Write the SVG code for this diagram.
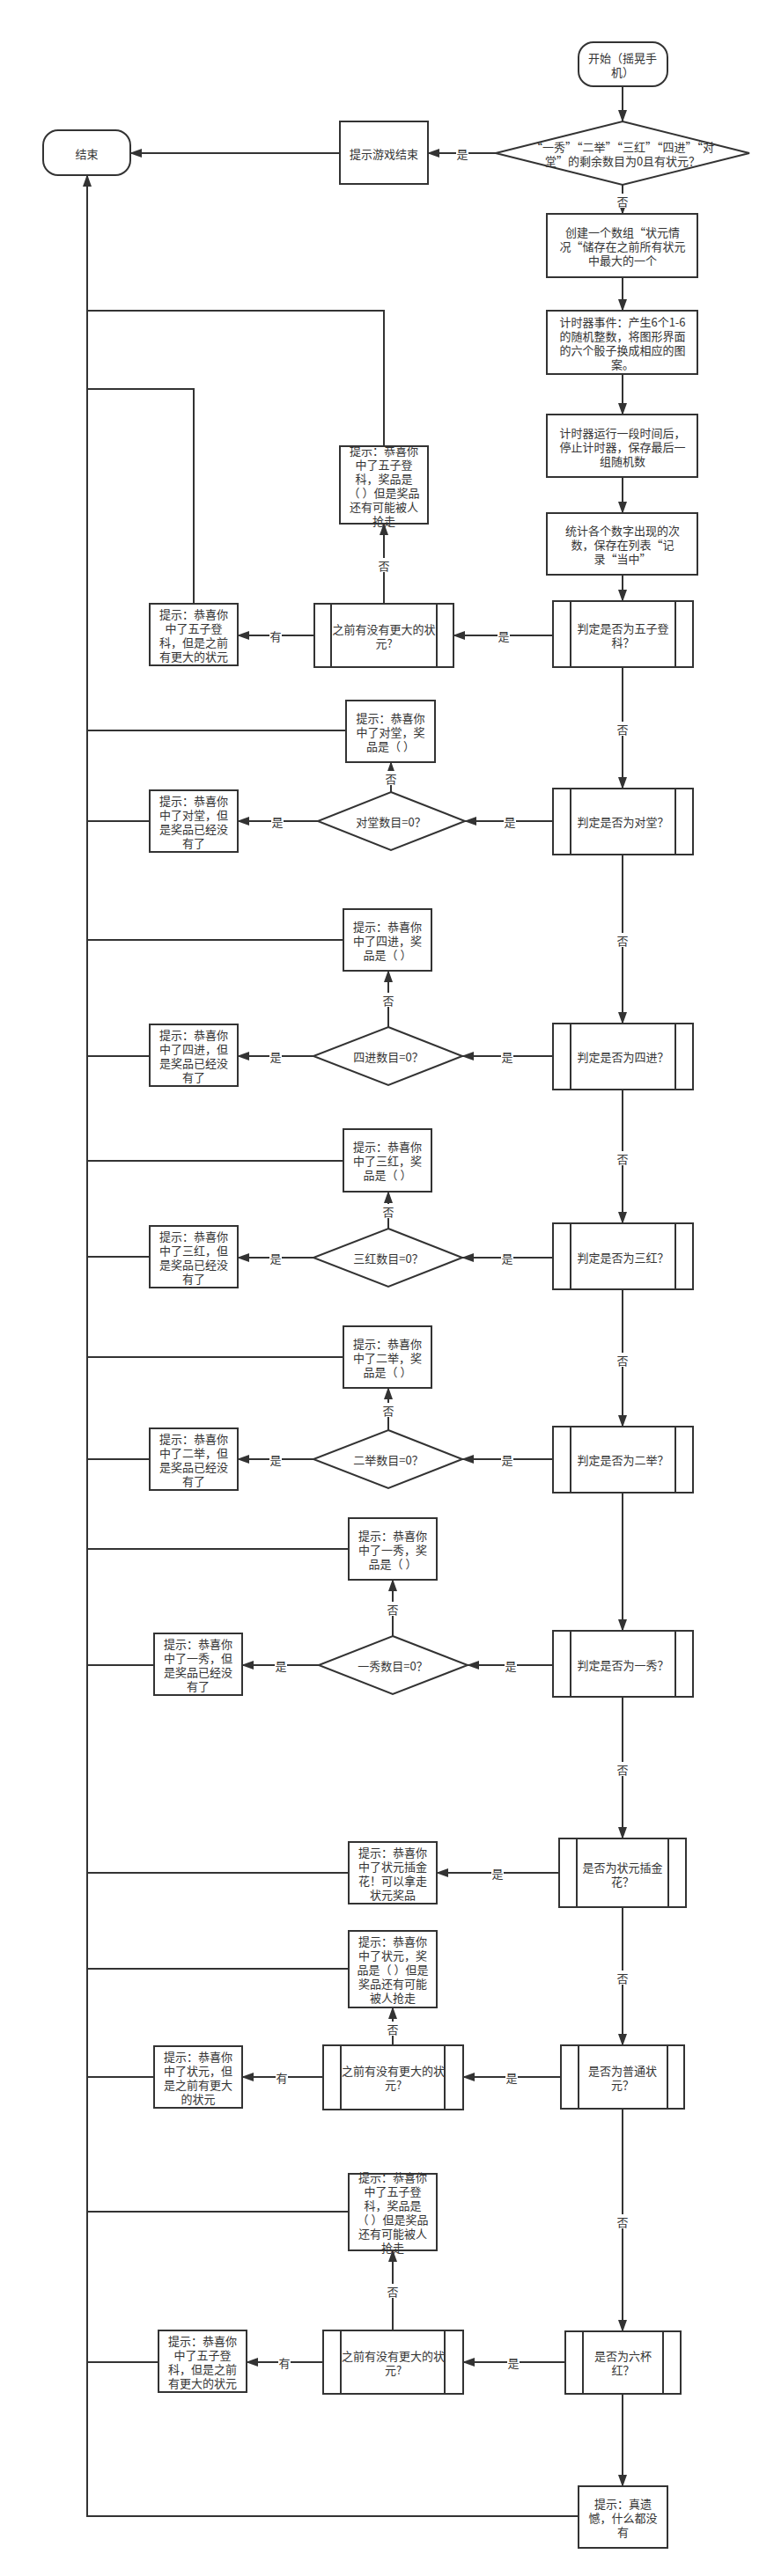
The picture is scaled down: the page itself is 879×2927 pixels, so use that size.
<svg xmlns="http://www.w3.org/2000/svg" width="879" height="2927" viewBox="0 0 879 2927">
<style>
.n{fill:#fff;stroke:#333;stroke-width:2}
.il{stroke:#333;stroke-width:2}
.t{font-family:"Noto Sans CJK SC","Noto Sans",sans-serif;font-size:13px;fill:#333;text-anchor:middle;dominant-baseline:central}
.c{fill:none;stroke:#333;stroke-width:2}
.lb{fill:#fff}
</style>
<defs>
<marker id="a" markerUnits="userSpaceOnUse" markerWidth="14" markerHeight="10" viewBox="0 0 14 10" refX="13" refY="5" orient="auto"><path d="M0,0 L14,5 L0,10 z" fill="#333"/></marker>
</defs>
<rect width="879" height="2927" fill="#fff"/>

<g id="connectors">
<path class="c" d="M707,98 V138" marker-end="url(#a)"/>
<path class="c" d="M563,174 H486" marker-end="url(#a)"/>
<path class="c" d="M386,174 H148" marker-end="url(#a)"/>
<path class="c" d="M707,210 V243" marker-end="url(#a)"/>
<path class="c" d="M707,315 V353" marker-end="url(#a)"/>
<path class="c" d="M707,425 V471" marker-end="url(#a)"/>
<path class="c" d="M707,542 V583" marker-end="url(#a)"/>
<path class="c" d="M707,653 V683" marker-end="url(#a)"/>
<path class="c" d="M628,722 H515" marker-end="url(#a)"/>
<path class="c" d="M357,722 H270" marker-end="url(#a)"/>
<path class="c" d="M436,686 V595" marker-end="url(#a)"/>
<path class="c" d="M436,507 V353 H99"/>
<path class="c" d="M220,686 V442 H99"/>
<path class="c" d="M707,758 V896" marker-end="url(#a)"/>
<path class="c" d="M628,933 H528" marker-end="url(#a)"/>
<path class="c" d="M361,933 H270" marker-end="url(#a)"/>
<path class="c" d="M444,900 V866" marker-end="url(#a)"/>
<path class="c" d="M393,830 H99"/>
<path class="c" d="M170,933 H99"/>
<path class="c" d="M707,971 V1163" marker-end="url(#a)"/>
<path class="c" d="M628,1200 H525" marker-end="url(#a)"/>
<path class="c" d="M356,1200 H270" marker-end="url(#a)"/>
<path class="c" d="M441,1167 V1103" marker-end="url(#a)"/>
<path class="c" d="M390,1068 H99"/>
<path class="c" d="M170,1200 H99"/>
<path class="c" d="M707,1238 V1390" marker-end="url(#a)"/>
<path class="c" d="M628,1429 H525" marker-end="url(#a)"/>
<path class="c" d="M356,1429 H270" marker-end="url(#a)"/>
<path class="c" d="M441,1396 V1354" marker-end="url(#a)"/>
<path class="c" d="M390,1319 H99"/>
<path class="c" d="M170,1428 H99"/>
<path class="c" d="M707,1465 V1621" marker-end="url(#a)"/>
<path class="c" d="M628,1658 H525" marker-end="url(#a)"/>
<path class="c" d="M356,1658 H270" marker-end="url(#a)"/>
<path class="c" d="M441,1625 V1577" marker-end="url(#a)"/>
<path class="c" d="M390,1542 H99"/>
<path class="c" d="M170,1658 H99"/>
<path class="c" d="M707,1696 V1853" marker-end="url(#a)"/>
<path class="c" d="M628,1892 H531" marker-end="url(#a)"/>
<path class="c" d="M362,1892 H275" marker-end="url(#a)"/>
<path class="c" d="M446,1859 V1795" marker-end="url(#a)"/>
<path class="c" d="M396,1760 H99"/>
<path class="c" d="M175,1892 H99"/>
<path class="c" d="M707,1928 V2089" marker-end="url(#a)"/>
<path class="c" d="M635,2128 H496" marker-end="url(#a)"/>
<path class="c" d="M396,2128 H99"/>
<path class="c" d="M707,2167 V2324" marker-end="url(#a)"/>
<path class="c" d="M637,2360 H526" marker-end="url(#a)"/>
<path class="c" d="M367,2360 H275" marker-end="url(#a)"/>
<path class="c" d="M446,2324 V2281" marker-end="url(#a)"/>
<path class="c" d="M396,2237 H99"/>
<path class="c" d="M175,2360 H99"/>
<path class="c" d="M707,2396 V2649" marker-end="url(#a)"/>
<path class="c" d="M642,2684 H526" marker-end="url(#a)"/>
<path class="c" d="M367,2684 H280" marker-end="url(#a)"/>
<path class="c" d="M446,2648 V2557" marker-end="url(#a)"/>
<path class="c" d="M396,2513 H99"/>
<path class="c" d="M180,2684 H99"/>
<path class="c" d="M707,2720 V2825" marker-end="url(#a)"/>
<path class="c" d="M657,2859 H99 V199" marker-end="url(#a)"/>
<g id="labels">
<rect class="lb" x="518" y="166" width="14" height="16"/><text class="t" x="525" y="174">是</text>
<rect class="lb" x="700" y="220" width="14" height="16"/><text class="t" x="707" y="228">否</text>
<rect class="lb" x="565" y="714" width="14" height="16"/><text class="t" x="572" y="722">是</text>
<rect class="lb" x="306" y="714" width="14" height="16"/><text class="t" x="313" y="722">有</text>
<rect class="lb" x="429" y="634" width="14" height="16"/><text class="t" x="436" y="642">否</text>
<rect class="lb" x="700" y="820" width="14" height="16"/><text class="t" x="707" y="828">否</text>
<rect class="lb" x="572" y="925" width="14" height="16"/><text class="t" x="579" y="933">是</text>
<rect class="lb" x="308" y="925" width="14" height="16"/><text class="t" x="315" y="933">是</text>
<rect class="lb" x="437" y="876" width="14" height="16"/><text class="t" x="444" y="884">否</text>
<rect class="lb" x="700" y="1060" width="14" height="16"/><text class="t" x="707" y="1068">否</text>
<rect class="lb" x="569" y="1192" width="14" height="16"/><text class="t" x="576" y="1200">是</text>
<rect class="lb" x="306" y="1192" width="14" height="16"/><text class="t" x="313" y="1200">是</text>
<rect class="lb" x="434" y="1128" width="14" height="16"/><text class="t" x="441" y="1136">否</text>
<rect class="lb" x="700" y="1308" width="14" height="16"/><text class="t" x="707" y="1316">否</text>
<rect class="lb" x="569" y="1421" width="14" height="16"/><text class="t" x="576" y="1429">是</text>
<rect class="lb" x="306" y="1421" width="14" height="16"/><text class="t" x="313" y="1429">是</text>
<rect class="lb" x="434" y="1368" width="14" height="16"/><text class="t" x="441" y="1376">否</text>
<rect class="lb" x="700" y="1537" width="14" height="16"/><text class="t" x="707" y="1545">否</text>
<rect class="lb" x="569" y="1650" width="14" height="16"/><text class="t" x="576" y="1658">是</text>
<rect class="lb" x="306" y="1650" width="14" height="16"/><text class="t" x="313" y="1658">是</text>
<rect class="lb" x="434" y="1594" width="14" height="16"/><text class="t" x="441" y="1602">否</text>
<rect class="lb" x="573" y="1884" width="14" height="16"/><text class="t" x="580" y="1892">是</text>
<rect class="lb" x="312" y="1884" width="14" height="16"/><text class="t" x="319" y="1892">是</text>
<rect class="lb" x="439" y="1820" width="14" height="16"/><text class="t" x="446" y="1828">否</text>
<rect class="lb" x="700" y="2002" width="14" height="16"/><text class="t" x="707" y="2010">否</text>
<rect class="lb" x="558" y="2120" width="14" height="16"/><text class="t" x="565" y="2128">是</text>
<rect class="lb" x="700" y="2239" width="14" height="16"/><text class="t" x="707" y="2247">否</text>
<rect class="lb" x="574" y="2352" width="14" height="16"/><text class="t" x="581" y="2360">是</text>
<rect class="lb" x="313" y="2352" width="14" height="16"/><text class="t" x="320" y="2360">有</text>
<rect class="lb" x="439" y="2297" width="14" height="16"/><text class="t" x="446" y="2305">否</text>
<rect class="lb" x="700" y="2516" width="14" height="16"/><text class="t" x="707" y="2524">否</text>
<rect class="lb" x="576" y="2676" width="14" height="16"/><text class="t" x="583" y="2684">是</text>
<rect class="lb" x="316" y="2676" width="14" height="16"/><text class="t" x="323" y="2684">有</text>
<rect class="lb" x="439" y="2595" width="14" height="16"/><text class="t" x="446" y="2603">否</text>
</g>
</g>

<g id="start"><rect class="n" x="657" y="48" width="101" height="50" rx="17"/><text class="t" x="707"><tspan x="707" y="65">开始（摇晃手</tspan><tspan x="707" y="81">机）</tspan></text></g>
<g id="check-end"><polygon class="n" points="707,138 851,174 707,210 563,174"/><text class="t"><tspan x="707" y="166">“一秀”“二举”“三红”“四进”“对</tspan><tspan x="707" y="182">堂”的剩余数目为0且有状元？</tspan></text></g>
<g id="game-over"><rect class="n" x="386" y="138" width="100" height="71"/><text class="t" x="436" y="174">提示游戏结束</text></g>
<g id="end"><rect class="n" x="49" y="148" width="99" height="51" rx="17"/><text class="t" x="98.5" y="174">结束</text></g>
<g id="create-array"><rect class="n" x="621" y="243" width="171" height="72"/><text class="t"><tspan x="707" y="263">创建一个数组“状元情</tspan><tspan x="707" y="279">况“储存在之前所有状元</tspan><tspan x="707" y="295">中最大的一个</tspan></text></g>
<g id="timer-event"><rect class="n" x="621" y="353" width="171" height="72"/><text class="t"><tspan x="707" y="365">计时器事件：产生6个1-6</tspan><tspan x="707" y="381">的随机整数，将图形界面</tspan><tspan x="707" y="397">的六个骰子换成相应的图</tspan><tspan x="707" y="413">案。</tspan></text></g>
<g id="timer-stop"><rect class="n" x="621" y="471" width="171" height="71"/><text class="t"><tspan x="707" y="491">计时器运行一段时间后，</tspan><tspan x="707" y="507">停止计时器，保存最后一</tspan><tspan x="707" y="523">组随机数</tspan></text></g>
<g id="count"><rect class="n" x="621" y="583" width="171" height="70"/><text class="t"><tspan x="707" y="602">统计各个数字出现的次</tspan><tspan x="707" y="618">数，保存在列表“记</tspan><tspan x="707" y="634">录“当中”</tspan></text></g>

<g id="is-wuzi"><rect class="n" x="628" y="683" width="159" height="75"/><line class="il" x1="648" y1="683" x2="648" y2="758"/><line class="il" x1="767" y1="683" x2="767" y2="758"/><text class="t"><tspan x="707.5" y="713">判定是否为五子登</tspan><tspan x="707.5" y="729">科？</tspan></text></g>
<g id="wuzi-bigger"><rect class="n" x="357" y="686" width="158" height="72"/><line class="il" x1="376" y1="686" x2="376" y2="758"/><line class="il" x1="496" y1="686" x2="496" y2="758"/><text class="t"><tspan x="436" y="714">之前有没有更大的状</tspan><tspan x="436" y="730">元?</tspan></text></g>
<g id="wuzi-prize"><rect class="n" x="386" y="507" width="100" height="88"/><text class="t"><tspan x="436" y="511">提示：恭喜你</tspan><tspan x="436" y="527">中了五子登</tspan><tspan x="436" y="543">科，奖品是</tspan><tspan x="436" y="559">（ ）但是奖品</tspan><tspan x="436" y="575">还有可能被人</tspan><tspan x="436" y="591">抢走</tspan></text></g>
<g id="wuzi-less"><rect class="n" x="170" y="686" width="100" height="70"/><text class="t"><tspan x="220" y="697">提示：恭喜你</tspan><tspan x="220" y="713">中了五子登</tspan><tspan x="220" y="729">科，但是之前</tspan><tspan x="220" y="745">有更大的状元</tspan></text></g>

<g id="is-duitang"><rect class="n" x="628" y="896" width="159" height="75"/><line class="il" x1="648" y1="896" x2="648" y2="971"/><line class="il" x1="767" y1="896" x2="767" y2="971"/><text class="t" x="707.5" y="933">判定是否为对堂？</text></g>
<g id="duitang-zero"><polygon class="n" points="444,900 528,933 444,966 361,933"/><text class="t" x="444" y="933">对堂数目=0？</text></g>
<g id="duitang-none"><rect class="n" x="170" y="898" width="100" height="70"/><text class="t"><tspan x="220" y="909">提示：恭喜你</tspan><tspan x="220" y="925">中了对堂，但</tspan><tspan x="220" y="941">是奖品已经没</tspan><tspan x="220" y="957">有了</tspan></text></g>
<g id="duitang-prize"><rect class="n" x="393" y="796" width="101" height="70"/><text class="t"><tspan x="443.5" y="815">提示：恭喜你</tspan><tspan x="443.5" y="831">中了对堂，奖</tspan><tspan x="443.5" y="847">品是（ ）</tspan></text></g>

<g id="is-sijin"><rect class="n" x="628" y="1163" width="159" height="75"/><line class="il" x1="648" y1="1163" x2="648" y2="1238"/><line class="il" x1="767" y1="1163" x2="767" y2="1238"/><text class="t" x="707.5" y="1200">判定是否为四进？</text></g>
<g id="sijin-zero"><polygon class="n" points="441,1167 525,1200 441,1233 356,1200"/><text class="t" x="441" y="1200">四进数目=0？</text></g>
<g id="sijin-none"><rect class="n" x="170" y="1164" width="100" height="70"/><text class="t"><tspan x="220" y="1175">提示：恭喜你</tspan><tspan x="220" y="1191">中了四进，但</tspan><tspan x="220" y="1207">是奖品已经没</tspan><tspan x="220" y="1223">有了</tspan></text></g>
<g id="sijin-prize"><rect class="n" x="390" y="1033" width="100" height="70"/><text class="t"><tspan x="440" y="1052">提示：恭喜你</tspan><tspan x="440" y="1068">中了四进，奖</tspan><tspan x="440" y="1084">品是（ ）</tspan></text></g>

<g id="is-sanhong"><rect class="n" x="628" y="1390" width="159" height="75"/><line class="il" x1="648" y1="1390" x2="648" y2="1465"/><line class="il" x1="767" y1="1390" x2="767" y2="1465"/><text class="t" x="707.5" y="1428">判定是否为三红？</text></g>
<g id="sanhong-zero"><polygon class="n" points="441,1396 525,1429 441,1462 356,1429"/><text class="t" x="441" y="1429">三红数目=0？</text></g>
<g id="sanhong-none"><rect class="n" x="170" y="1393" width="100" height="70"/><text class="t"><tspan x="220" y="1404">提示：恭喜你</tspan><tspan x="220" y="1420">中了三红，但</tspan><tspan x="220" y="1436">是奖品已经没</tspan><tspan x="220" y="1452">有了</tspan></text></g>
<g id="sanhong-prize"><rect class="n" x="390" y="1283" width="100" height="71"/><text class="t"><tspan x="440" y="1302">提示：恭喜你</tspan><tspan x="440" y="1318">中了三红，奖</tspan><tspan x="440" y="1334">品是（ ）</tspan></text></g>

<g id="is-erju"><rect class="n" x="628" y="1621" width="159" height="75"/><line class="il" x1="648" y1="1621" x2="648" y2="1696"/><line class="il" x1="767" y1="1621" x2="767" y2="1696"/><text class="t" x="707.5" y="1658">判定是否为二举？</text></g>
<g id="erju-zero"><polygon class="n" points="441,1625 525,1658 441,1691 356,1658"/><text class="t" x="441" y="1658">二举数目=0？</text></g>
<g id="erju-none"><rect class="n" x="170" y="1623" width="100" height="70"/><text class="t"><tspan x="220" y="1634">提示：恭喜你</tspan><tspan x="220" y="1650">中了二举，但</tspan><tspan x="220" y="1666">是奖品已经没</tspan><tspan x="220" y="1682">有了</tspan></text></g>
<g id="erju-prize"><rect class="n" x="390" y="1507" width="100" height="70"/><text class="t"><tspan x="440" y="1526">提示：恭喜你</tspan><tspan x="440" y="1542">中了二举，奖</tspan><tspan x="440" y="1558">品是（ ）</tspan></text></g>

<g id="is-yixiu"><rect class="n" x="628" y="1853" width="159" height="75"/><line class="il" x1="648" y1="1853" x2="648" y2="1928"/><line class="il" x1="767" y1="1853" x2="767" y2="1928"/><text class="t" x="707.5" y="1891">判定是否为一秀？</text></g>
<g id="yixiu-zero"><polygon class="n" points="446,1859 531,1892 446,1925 362,1892"/><text class="t" x="446" y="1892">一秀数目=0？</text></g>
<g id="yixiu-none"><rect class="n" x="175" y="1856" width="100" height="70"/><text class="t"><tspan x="225" y="1867">提示：恭喜你</tspan><tspan x="225" y="1883">中了一秀，但</tspan><tspan x="225" y="1899">是奖品已经没</tspan><tspan x="225" y="1915">有了</tspan></text></g>
<g id="yixiu-prize"><rect class="n" x="396" y="1725" width="100" height="70"/><text class="t"><tspan x="446" y="1744">提示：恭喜你</tspan><tspan x="446" y="1760">中了一秀，奖</tspan><tspan x="446" y="1776">品是（ ）</tspan></text></g>

<g id="is-chajinhua"><rect class="n" x="635" y="2089" width="144" height="78"/><line class="il" x1="655" y1="2089" x2="655" y2="2167"/><line class="il" x1="759" y1="2089" x2="759" y2="2167"/><text class="t"><tspan x="707" y="2121">是否为状元插金</tspan><tspan x="707" y="2137">花？</tspan></text></g>
<g id="chajinhua-prize"><rect class="n" x="396" y="2093" width="100" height="70"/><text class="t"><tspan x="446" y="2104">提示：恭喜你</tspan><tspan x="446" y="2120">中了状元插金</tspan><tspan x="446" y="2136">花！可以拿走</tspan><tspan x="446" y="2152">状元奖品</tspan></text></g>

<g id="is-zhuangyuan"><rect class="n" x="637" y="2324" width="140" height="72"/><line class="il" x1="657" y1="2324" x2="657" y2="2396"/><line class="il" x1="758" y1="2324" x2="758" y2="2396"/><text class="t"><tspan x="707" y="2352">是否为普通状</tspan><tspan x="707" y="2368">元？</tspan></text></g>
<g id="zhuangyuan-bigger"><rect class="n" x="367" y="2324" width="159" height="73"/><line class="il" x1="387" y1="2324" x2="387" y2="2397"/><line class="il" x1="505" y1="2324" x2="505" y2="2397"/><text class="t"><tspan x="446.5" y="2352">之前有没有更大的状</tspan><tspan x="446.5" y="2368">元?</tspan></text></g>
<g id="zhuangyuan-less"><rect class="n" x="175" y="2325" width="100" height="70"/><text class="t"><tspan x="225" y="2336">提示：恭喜你</tspan><tspan x="225" y="2352">中了状元，但</tspan><tspan x="225" y="2368">是之前有更大</tspan><tspan x="225" y="2384">的状元</tspan></text></g>
<g id="zhuangyuan-prize"><rect class="n" x="396" y="2194" width="100" height="87"/><text class="t"><tspan x="446" y="2205">提示：恭喜你</tspan><tspan x="446" y="2221">中了状元，奖</tspan><tspan x="446" y="2237">品是（ ）但是</tspan><tspan x="446" y="2253">奖品还有可能</tspan><tspan x="446" y="2269">被人抢走</tspan></text></g>

<g id="is-liubeihong"><rect class="n" x="642" y="2649" width="131" height="71"/><line class="il" x1="662" y1="2649" x2="662" y2="2720"/><line class="il" x1="753" y1="2649" x2="753" y2="2720"/><text class="t"><tspan x="707.5" y="2676">是否为六杯</tspan><tspan x="707.5" y="2692">红？</tspan></text></g>
<g id="liubeihong-bigger"><rect class="n" x="367" y="2648" width="159" height="72"/><line class="il" x1="387" y1="2648" x2="387" y2="2720"/><line class="il" x1="505" y1="2648" x2="505" y2="2720"/><text class="t"><tspan x="446.5" y="2676">之前有没有更大的状</tspan><tspan x="446.5" y="2692">元?</tspan></text></g>
<g id="liubeihong-less"><rect class="n" x="180" y="2648" width="100" height="70"/><text class="t"><tspan x="230" y="2659">提示：恭喜你</tspan><tspan x="230" y="2675">中了五子登</tspan><tspan x="230" y="2691">科，但是之前</tspan><tspan x="230" y="2707">有更大的状元</tspan></text></g>
<g id="liubeihong-prize"><rect class="n" x="396" y="2470" width="100" height="87"/><text class="t"><tspan x="446" y="2473">提示：恭喜你</tspan><tspan x="446" y="2489">中了五子登</tspan><tspan x="446" y="2505">科，奖品是</tspan><tspan x="446" y="2521">（ ）但是奖品</tspan><tspan x="446" y="2537">还有可能被人</tspan><tspan x="446" y="2553">抢走</tspan></text></g>

<g id="nothing"><rect class="n" x="657" y="2825" width="101" height="70"/><text class="t"><tspan x="707.5" y="2844">提示：真遗</tspan><tspan x="707.5" y="2860">憾，什么都没</tspan><tspan x="707.5" y="2876">有</tspan></text></g>
</svg>
